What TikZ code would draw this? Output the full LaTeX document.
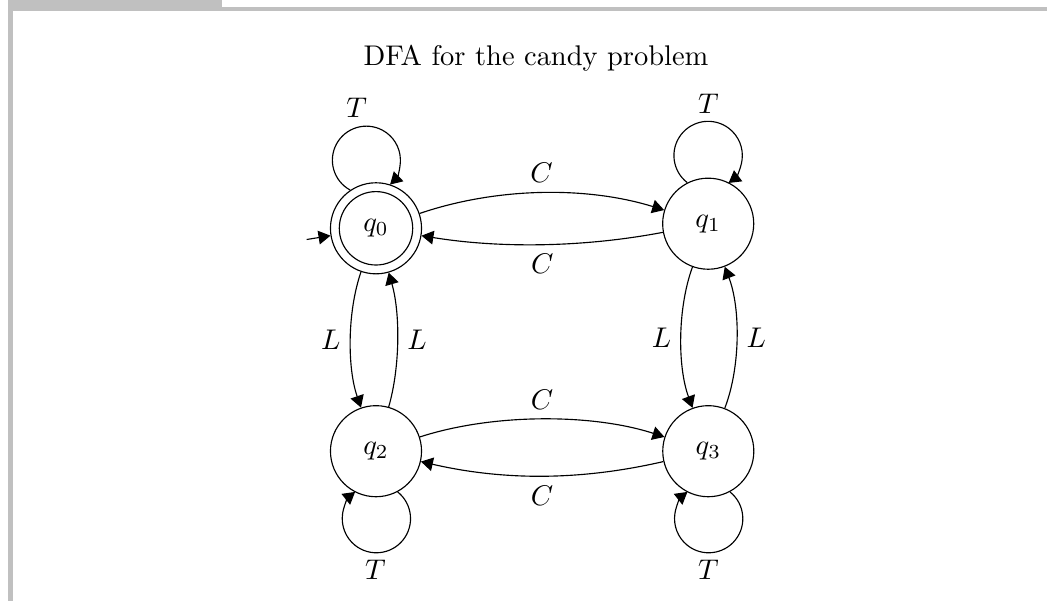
\documentclass[tikz,border=0pt]{standalone}
\usetikzlibrary{arrows.meta}
\definecolor{framegray}{RGB}{192,192,192}
\begin{document}
\begin{tikzpicture}[x=0.3514pt,y=0.3514pt,
  >={Triangle[length=4.2pt,width=4.8pt]},
  st/.style={draw,circle,minimum size=32pt,inner sep=0pt},
  inner/.style={draw,circle,minimum size=25.8pt,inner sep=0pt},
  edgeline/.style={->}]
\useasboundingbox (0,0) rectangle (1047,-601);
% frame
\fill[framegray] (8.3,0) rectangle (222,-7);
\fill[framegray] (8.3,-7) rectangle (1047,-11);
\fill[framegray] (8.3,-7) rectangle (13.3,-601);
% title
\node[anchor=base] (title) at (536,-65) {DFA for the candy problem};
% states
\node[st] (q0) at (376,-228.3) {$q_0$};
\node[inner] (q0in) at (q0.center) {};
\node[st] (q1) at (708.2,-223.7) {$q_1$};
\node[st] (q2) at (376,-451.2) {$q_2$};
\node[st] (q3) at (708.3,-451.2) {$q_3$};
% initial
\coordinate (init) at (306.7,-239.5);
\draw[edgeline] (init) -- (q0);
% C transitions
\draw[edgeline] (q0) to[bend left=18,looseness=0.85] node[above] {$C$} (q1);
\draw[edgeline] (q1) to[bend left=10,looseness=0.85] node[below] {$C$} (q0);
\draw[edgeline] (q2) to[bend left=18,looseness=0.8] node[above] {$C$} (q3);
\draw[edgeline] (q3) to[bend left=13,looseness=0.9] node[below] {$C$} (q2);
% L transitions
\draw[edgeline] (q0) to[bend right=19,looseness=0.8] node[left] {$L$} (q2);
\draw[edgeline] (q2) to[bend right=16,looseness=0.8] node[right] {$L$} (q0);
\draw[edgeline] (q1) to[bend right=20,looseness=0.8] node[left] {$L$} (q3);
\draw[edgeline] (q3) to[bend right=21,looseness=0.8] node[right] {$L$} (q1);
% T loops
\draw[edgeline] (q0.124) arc[start angle=241.6, end angle=-45.9, radius=11.95pt];
\draw[edgeline] (q1.117) arc[start angle=232.4, end angle=-53.25, radius=12.02pt];
\draw[edgeline] (q2.-62) arc[start angle=51.5, end angle=-231.5, radius=12.0pt];
\draw[edgeline] (q3.-62) arc[start angle=51.5, end angle=-231.5, radius=12.0pt];
\node (t0) at (356.7,-107.5) {$T$};
\node (t1) at (708.3,-104) {$T$};
\node (t2) at (375.5,-570) {$T$};
\node (t3) at (708.3,-570) {$T$};
\end{tikzpicture}
\end{document}
